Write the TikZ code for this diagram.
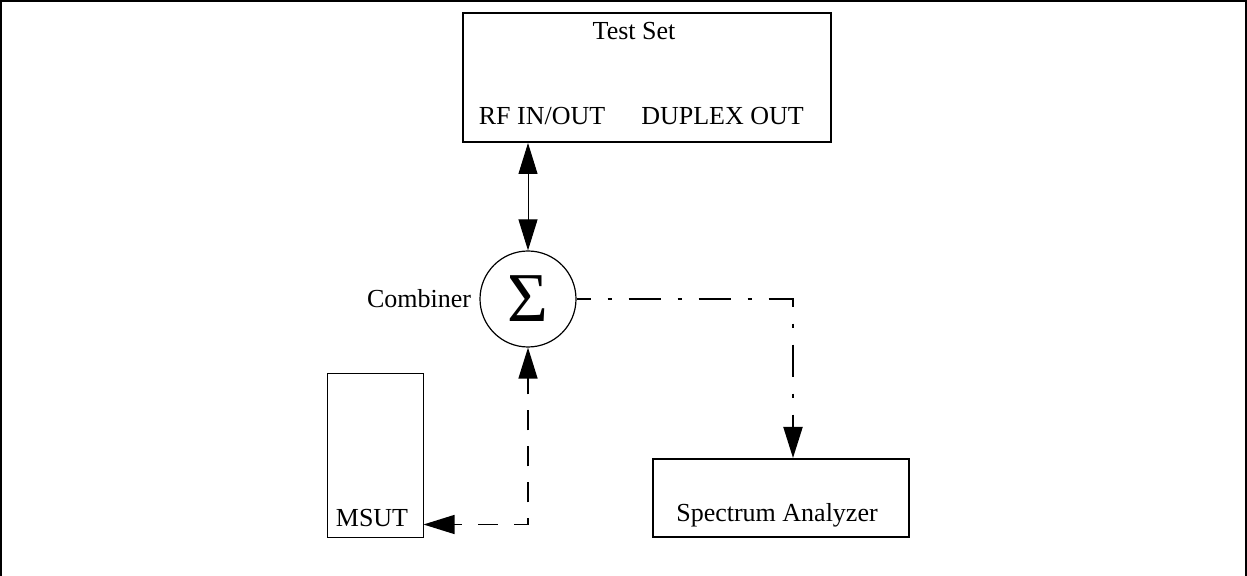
\documentclass[tikz,border=0pt]{standalone}
\usepackage{fontspec}
\setmainfont{Liberation Serif}
\usetikzlibrary{arrows.meta,positioning}

\begin{document}
\begin{tikzpicture}[
   x=0.5pt, y=-0.5pt,
   font=\fontsize{13pt}{15pt}\selectfont,
   box/.style={draw, line width=1pt, inner sep=0pt},
   thinbox/.style={draw, line width=0.5pt, inner sep=0pt},
   port/.style={anchor=base, inner sep=0pt},
   >={Triangle[length=15.5pt, width=9.5pt]}]
  \useasboundingbox (0,0) rectangle (1247,576);
  \draw[line width=1pt] (1,576) -- (1,1) -- (1246,1) -- (1246,576);
  % instruments
  \node[box, minimum width=184pt, minimum height=64.5pt] (ts) at (647,77.5) {};
  \node[port] (tsname) at (634,40) {Test Set};
  \node[port] (rfio) at (542,125) {RF IN/OUT};
  \node[port] (dupout) at (722.5,125) {DUPLEX OUT};
  \node[circle, draw, line width=0.6pt, minimum size=48pt, inner sep=0pt] (sum) at (528,299)
       {\fontsize{35pt}{35pt}\selectfont Σ};
  \node[left=4pt of sum, inner sep=0pt] (comb) {Combiner};
  \node[thinbox, minimum width=48pt, minimum height=82pt] (msut) at (375,456) {};
  \node[port] (msutname) at (372,527) {MSUT};
  \node[box, minimum width=128pt, minimum height=39pt] (sa) at (781,498) {};
  \node[port] (saname) at (777,522) {Spectrum Analyzer};
  % connections
  \draw[<->, line width=0.5pt] (sum.north |- ts.south) -- (sum.north);
  \draw[->, line width=1pt, dash pattern=on 16pt off 8.5pt on 2pt off 8.5pt, dash phase=9pt]
       (sum.east) -| ([xshift=6pt]sa.north);
  \draw[<->, line width=0.7pt, dash pattern=on 10pt off 8pt, dash phase=6pt]
       ([yshift=7pt]msut.south east) -| (sum.south);
\end{tikzpicture}
\end{document}
